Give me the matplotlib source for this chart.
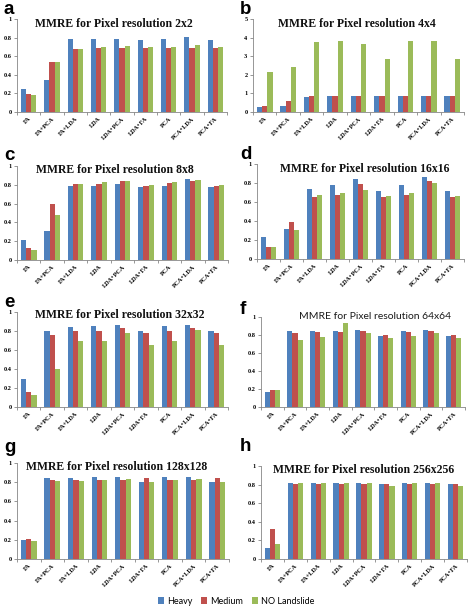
import matplotlib
matplotlib.use("Agg")
import matplotlib.pyplot as plt
from matplotlib.patches import Patch
import numpy as np

W, H = 472, 609

categories = ["FA", "FA+PCA", "FA+LDA", "LDA", "LDA+PCA", "LDA+FA", "PCA", "PCA+LDA", "PCA+FA"]
series_names = ["Heavy", "Medium", "NO Landslide"]
colors = ["#4F81BD", "#C0504D", "#9BBB59"]

heavy_2 = [0.25, 0.346, 0.79, 0.79, 0.79, 0.775, 0.79, 0.807, 0.775]
medium_2 = [0.196, 0.54, 0.675, 0.686, 0.69, 0.686, 0.686, 0.69, 0.686]
noland_2 = [0.186, 0.535, 0.675, 0.70, 0.71, 0.70, 0.70, 0.725, 0.70]

heavy_4 = [0.25, 0.32, 0.79, 0.86, 0.86, 0.86, 0.86, 0.88, 0.86]
medium_4 = [0.32, 0.61, 0.86, 0.88, 0.88, 0.88, 0.88, 0.88, 0.88]
noland_4 = [2.13, 2.44, 3.78, 3.84, 3.64, 2.85, 3.84, 3.84, 2.85]

heavy_8 = [0.208, 0.307, 0.788, 0.79, 0.813, 0.781, 0.788, 0.866, 0.781]
medium_8 = [0.124, 0.597, 0.809, 0.813, 0.837, 0.79, 0.82, 0.845, 0.79]
noland_8 = [0.106, 0.484, 0.813, 0.827, 0.841, 0.80, 0.827, 0.855, 0.80]

heavy_16 = [0.235, 0.316, 0.737, 0.775, 0.839, 0.72, 0.775, 0.86, 0.72]
medium_16 = [0.126, 0.39, 0.649, 0.674, 0.786, 0.656, 0.674, 0.82, 0.656]
noland_16 = [0.123, 0.305, 0.674, 0.69, 0.726, 0.663, 0.69, 0.80, 0.663]

heavy_32 = [0.293, 0.805, 0.843, 0.85, 0.868, 0.80, 0.85, 0.868, 0.80]
medium_32 = [0.16, 0.763, 0.80, 0.805, 0.836, 0.777, 0.805, 0.836, 0.777]
noland_32 = [0.125, 0.397, 0.693, 0.693, 0.78, 0.652, 0.693, 0.808, 0.652]

heavy_64 = [0.163, 0.844, 0.848, 0.848, 0.856, 0.789, 0.848, 0.856, 0.789]
medium_64 = [0.193, 0.826, 0.833, 0.833, 0.84, 0.796, 0.833, 0.84, 0.796]
noland_64 = [0.193, 0.74, 0.778, 0.937, 0.826, 0.77, 0.793, 0.826, 0.77]

heavy_128 = [0.194, 0.844, 0.844, 0.85, 0.85, 0.80, 0.85, 0.85, 0.80]
medium_128 = [0.208, 0.82, 0.82, 0.82, 0.826, 0.844, 0.82, 0.826, 0.844]
noland_128 = [0.19, 0.813, 0.813, 0.82, 0.833, 0.80, 0.82, 0.833, 0.80]

heavy_256 = [0.121, 0.818, 0.818, 0.818, 0.82, 0.81, 0.818, 0.82, 0.81]
medium_256 = [0.318, 0.81, 0.81, 0.81, 0.81, 0.804, 0.81, 0.81, 0.804]
noland_256 = [0.157, 0.814, 0.814, 0.82, 0.82, 0.79, 0.82, 0.82, 0.79]

titles = ["MMRE for Pixel resolution 2x2", "MMRE for Pixel resolution 4x4",
          "MMRE for Pixel resolution 8x8", "MMRE for Pixel resolution 16x16",
          "MMRE for Pixel resolution 32x32", "MMRE for Pixel resolution 64x64",
          "MMRE for Pixel resolution 128x128", "MMRE for Pixel resolution 256x256"]
letters = ["a", "b", "c", "d", "e", "f", "g", "h"]

panel_data = [
    (heavy_2, medium_2, noland_2),
    (heavy_4, medium_4, noland_4),
    (heavy_8, medium_8, noland_8),
    (heavy_16, medium_16, noland_16),
    (heavy_32, medium_32, noland_32),
    (heavy_64, medium_64, noland_64),
    (heavy_128, medium_128, noland_128),
    (heavy_256, medium_256, noland_256),
]

# axes boxes in image pixels: left, right, top, bottom
boxes = [
    (17, 227, 19, 112), (253, 464, 19, 112),
    (17, 228, 166, 260), (257, 464, 164, 259),
    (17, 228, 312, 407), (261, 465, 317, 407),
    (17, 229, 463, 559), (261, 467, 466, 559),
]
# title centre in axes fraction
title_pos = [(0.46, 0.946), (0.49, 0.946), (0.466, 0.957), (0.52, 0.947),
             (0.486, 0.968), (0.56, 1.0), (0.471, 0.958), (0.497, 0.957)]
# letter baseline in image pixels (x, y)
letter_pos = [(4, 14), (240, 14), (4, 160), (240, 159),
              (4, 307), (240, 314), (4, 452), (240, 451)]

fig = plt.figure(figsize=(W / 100, H / 100), dpi=100)
fig.patch.set_facecolor("white")

serif = "Liberation Serif"
axis_gray = "#868686"
x = np.arange(len(categories))
bw = 0.222

for k, (data, box) in enumerate(zip(panel_data, boxes)):
    l, r, t, b = box
    ax = fig.add_axes([l / W, 1 - b / H, (r - l) / W, (b - t) / H])
    for j, vals in enumerate(data):
        ax.bar(x + (j - 1) * bw, vals, width=bw, color=colors[j], linewidth=0)

    ymax = 5 if k == 1 else 1
    ax.set_ylim(0, ymax)
    ax.set_xlim(-0.5, len(categories) - 0.5)
    if k == 1:
        ticks = [0, 1, 2, 3, 4, 5]
        labels = ["0", "1", "2", "3", "4", "5"]
    else:
        ticks = [0, 0.2, 0.4, 0.6, 0.8, 1.0]
        labels = ["0", "0.2", "0.4", "0.6", "0.8", "1"]
    ax.set_yticks(ticks)
    ax.set_yticklabels(labels, fontfamily=serif, fontweight="bold", fontsize=4.5)
    ax.set_xticks(x)
    ax.set_xticklabels(categories, fontfamily=serif, fontweight="bold", fontsize=4.5,
                       rotation=45, ha="right", va="top", rotation_mode="anchor")
    ax.set_xticks(np.arange(-0.5, len(categories), 1.0), minor=True)
    ax.tick_params(axis="x", which="major", length=0, pad=3)
    ax.tick_params(axis="x", which="minor", length=2.5, color=axis_gray, width=0.6)
    ax.tick_params(axis="y", length=2, color=axis_gray, width=0.6, pad=2)

    for side in ["top", "right"]:
        ax.spines[side].set_visible(False)
    for side in ["left", "bottom"]:
        ax.spines[side].set_color(axis_gray)
        ax.spines[side].set_linewidth(0.6)

    tx, ty = title_pos[k]
    if k == 5:
        ax.text(tx, ty, titles[k], transform=ax.transAxes, ha="center", va="center",
                fontsize=7.5, fontfamily="Lato", color="#1a1a1a")
    else:
        ax.text(tx, ty, titles[k], transform=ax.transAxes, ha="center", va="center",
                fontsize=8.5, fontfamily=serif, fontweight="bold", color="#111111")

    lx, ly = letter_pos[k]
    fig.text(lx / W, 1 - ly / H, letters[k], fontsize=13.5, fontweight="bold",
             fontfamily="Liberation Sans", ha="left", va="baseline")

handles = [Patch(facecolor=c, edgecolor="none") for c in colors]
fig.legend(handles, series_names, loc="center", bbox_to_anchor=(236 / W, 1 - 601 / H),
           ncol=3, frameon=False, prop={"family": "Lato", "size": 6.5},
           handlelength=0.7, handleheight=0.7, handletextpad=0.3, columnspacing=1.0)

fig.savefig("out.png", dpi=100)
